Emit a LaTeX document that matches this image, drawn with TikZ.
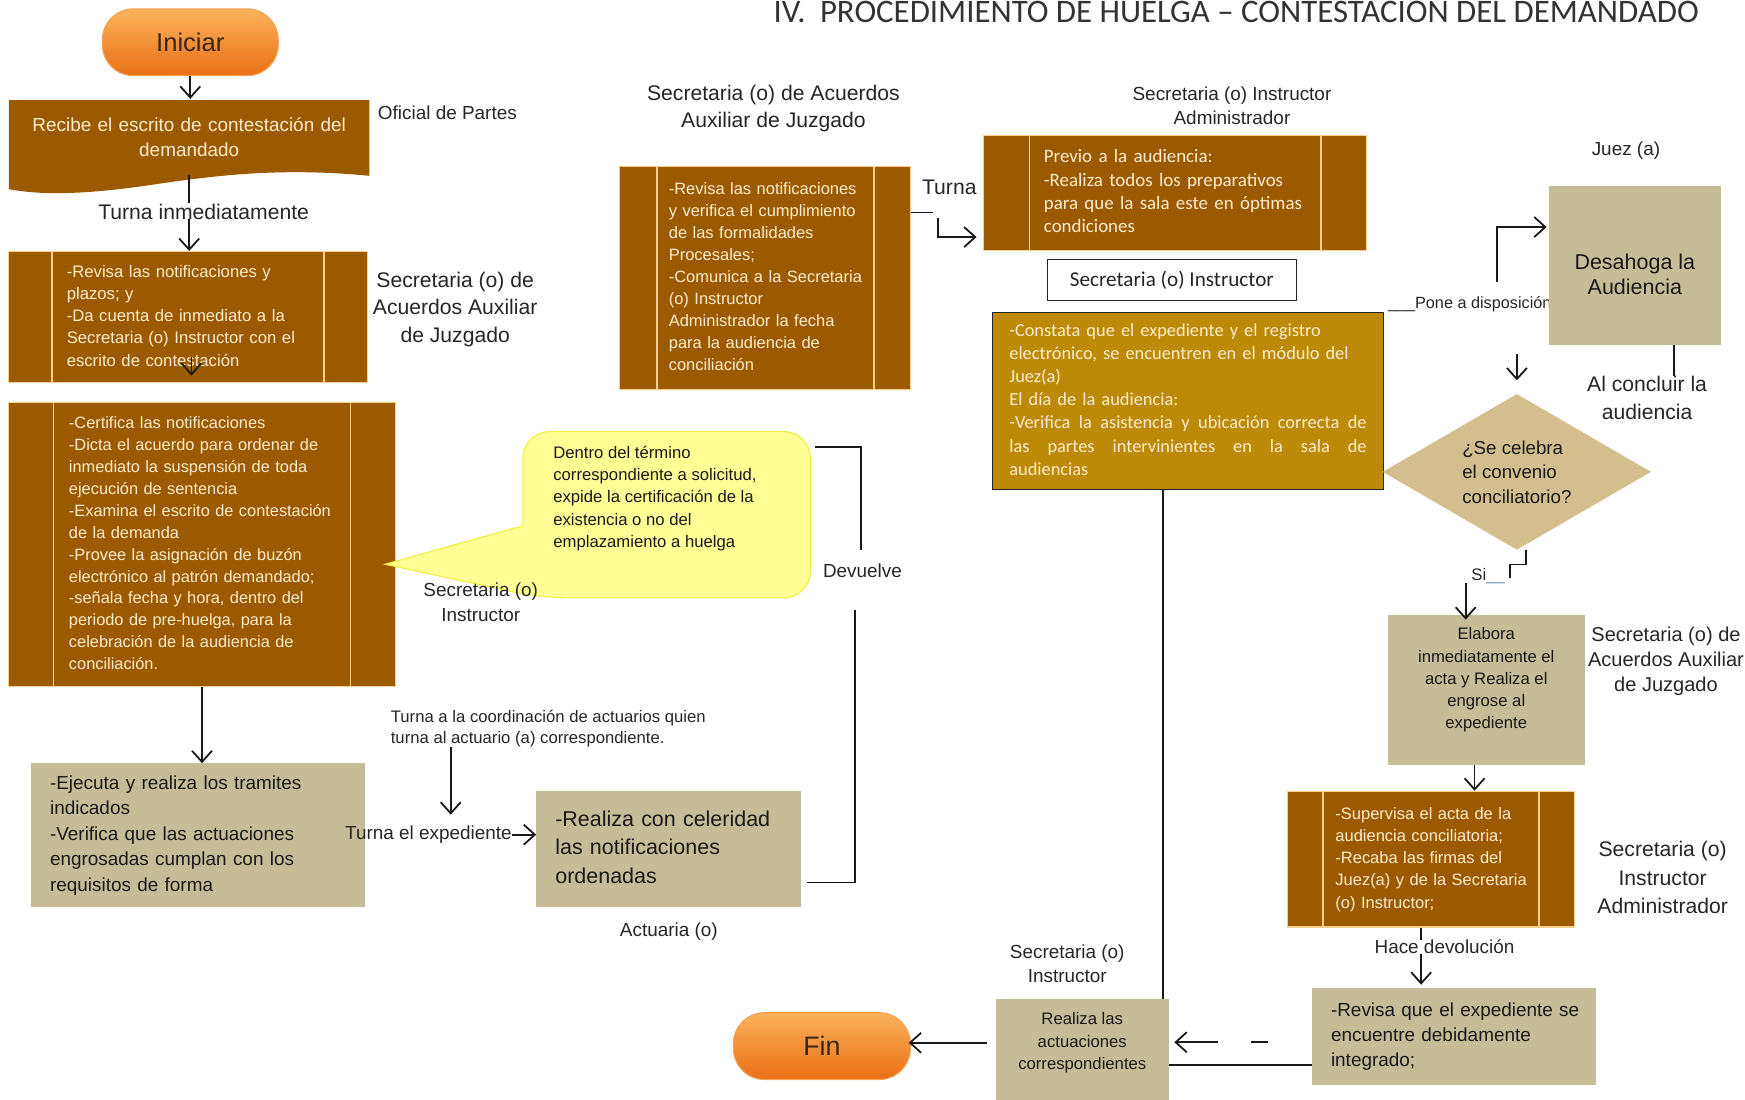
\documentclass[tikz,border=0pt]{standalone}
\usepackage{fontspec}
\setmainfont{Liberation Sans}
\newfontfamily\carlito{Carlito}
\usetikzlibrary{arrows.meta,shapes.geometric}
\definecolor{brownbox}{RGB}{155,90,0}
\definecolor{creamline}{RGB}{248,206,140}
\definecolor{creamtext}{RGB}{255,236,205}
\definecolor{tanbox}{RGB}{196,189,151}
\definecolor{diabox}{RGB}{212,190,142}
\definecolor{goldbox}{RGB}{188,138,6}
\definecolor{bubfill}{RGB}{255,255,150}
\definecolor{bubline}{RGB}{238,238,60}
\definecolor{ortop}{RGB}{252,178,92}
\definecolor{orbot}{RGB}{232,112,22}
\definecolor{orline}{RGB}{244,160,80}
\definecolor{pilltext}{RGB}{60,38,18}
\definecolor{siline}{RGB}{110,140,200}
\newcommand{\fsz}[2]{\fontsize{#1}{#2}\selectfont}
\newcommand{\boxlines}[1]{\begin{tabular}{@{}l@{}}#1\end{tabular}}

\begin{document}
\begin{tikzpicture}[x=1pt, y=-1pt,
    lbl/.style={text=black!85, align=center, inner sep=0pt},
    arr/.style={-{Straight Barb[length=10pt,width=18pt]}, line width=1.6pt, black!90},
    ln/.style={line width=1.6pt, black!90},
    pill/.style={rectangle, rounded corners=28pt, top color=ortop, bottom color=orbot, draw=orline,
        line width=1pt, text=pilltext, minimum width=158pt, minimum height=60pt, font=\fsz{23}{26}},
    proc/.style={rectangle, fill=brownbox, draw=creamline, line width=1pt, text=creamtext, align=left, inner ysep=0pt,
        path picture={\draw[creamline, line width=1.6pt]
            ([xshift=#1]path picture bounding box.north west) -- ([xshift=#1]path picture bounding box.south west)
            ([xshift=-#1]path picture bounding box.north east) -- ([xshift=-#1]path picture bounding box.south east);}},
    tanbx/.style={rectangle, fill=tanbox, text=black!90, inner ysep=0pt}]

    \useasboundingbox (0,0) rectangle (1568,988);
    \fill[white] (0,0) rectangle (1568,988);

    \node[anchor=base west, font=\carlito\fsz{29.5}{32}, text=black!80, inner sep=0pt] (tit) at (695,20)
        {IV.\hspace{13pt}PROCEDIMIENTO DE HUELGA – CONTESTACIÓN DEL DEMANDADO};

    \node[pill] (ini) at (171,38) {Iniciar};
    \fill[brownbox] (8,90) -- (332,90) -- (332,158) .. controls (250,150) and (190,158) .. (130,167)
        .. controls (80,174) and (40,176) .. (8,170) -- cycle;
    \node[minimum width=324pt, minimum height=68pt, text width=300pt, align=center, text=creamtext,
        font=\fsz{17}{22}, inner sep=0pt] (rec) at (170,123) {Recibe el escrito de contestación del\\demandado};
    \node[lbl, font=\fsz{17}{20}] (ofi) at (402,101) {Oficial de Partes};
    \node[lbl, font=\fsz{19}{22}] (tin) at (183,190) {Turna inmediatamente};

    \node[proc=39pt, text width=218pt, inner xsep=52pt, minimum height=118pt, font=\fsz{15}{20}] (b2) at (169,285)
        {\boxlines{-Revisa las notificaciones y\\plazos; y\\-Da cuenta de inmediato a la\\Secretaria (o) Instructor con el\\escrito de contestación}};
    \node[lbl, font=\fsz{19}{25}] (s2) at (409,278) {Secretaria (o) de\\Acuerdos Auxiliar\\de Juzgado};

    \node[proc=40pt, text width=239pt, inner xsep=54pt, minimum height=255pt, font=\fsz{14.7}{19.7}] (b3) at (181.5,489.5)
        {\boxlines{-Certifica las notificaciones\\-Dicta el acuerdo para ordenar de\\inmediato la suspensión de toda\\ejecución de sentencia\\-Examina el escrito de contestación\\de la demanda\\-Provee la asignación de buzón\\electrónico al patrón demandado;\\-señala fecha y hora, dentro del\\periodo de pre-huelga, para la\\celebración de la audiencia de\\conciliación.}};

    \node[minimum width=258pt, minimum height=149pt, inner sep=0pt] (bub) at (599,462.5) {};
    \coordinate (tip) at (346,507);
    \filldraw[fill=bubfill, draw=bubline, line width=1pt] (tip) -- ([yshift=-10pt]bub.west) [rounded corners=24pt]
        -- (bub.north west) -- (bub.north east) -- (bub.south east) -- ([xshift=16pt]bub.south west) [sharp corners] -- cycle;
    \node[lbl, align=left, anchor=west, font=\fsz{15}{20}, text=black!90] (bubt) at (497,448)
        {Dentro del término\\correspondiente a solicitud,\\expide la certificación de la\\existencia o no del\\emplazamiento a huelga};
    \node[lbl, font=\fsz{17}{22}] (s3) at (432,541) {Secretaria (o)\\Instructor};

    \node[tanbx, text width=266pt, inner xsep=17pt, minimum height=129pt, align=left, font=\fsz{17}{23}] (b4) at (178,750.5)
        {\boxlines{-Ejecuta y realiza los tramites\\indicados\\-Verifica que las actuaciones\\engrosadas cumplan con los\\requisitos de forma}};
    \node[lbl, align=left, anchor=west, font=\fsz{15}{19}] (tco) at (351,654.5)
        {Turna a la coordinación de actuarios quien\\turna al actuario (a) correspondiente.};
    \node[lbl, font=\fsz{17}{20}] (tex) at (385,750) {Turna el expediente};
    \node[tanbx, text width=204pt, inner xsep=17pt, minimum height=104pt, align=left, font=\fsz{19.3}{25.5}] (b5) at (601,763)
        {\boxlines{-Realiza con celeridad\\las notificaciones\\ordenadas}};
    \node[lbl, font=\fsz{17}{20}] (act) at (601,837) {Actuaria (o)};
    \node[lbl, font=\fsz{17}{20}] (dev) at (775,513) {Devuelve};

    \node[lbl, font=\fsz{19}{25}] (s6) at (695,97.5) {Secretaria (o) de Acuerdos\\Auxiliar de Juzgado};
    \node[proc=33pt, text width=173pt, inner xsep=44pt, minimum height=200pt, font=\fsz{14.8}{19.7}] (b6) at (687.5,250)
        {\boxlines{-Revisa las notificaciones\\y verifica el cumplimiento\\de las formalidades\\Procesales;\\-Comunica a la Secretaria\\(o) Instructor\\Administrador la fecha\\para la audiencia de\\conciliación}};
    \node[lbl, font=\fsz{19}{22}] (tur) at (853,168) {Turna};

    \node[lbl, font=\fsz{17}{22}] (s7) at (1107,95) {Secretaria (o) Instructor\\Administrador};
    \node[proc=41pt, text width=236pt, inner xsep=54pt, minimum height=103pt, font=\carlito\fsz{17}{21}] (b7) at (1056,173.5)
        {\boxlines{Previo a la audiencia:\\-Realiza todos los preparativos\\para que la sala este en óptimas\\condiciones}};
    \node[rectangle, draw=black!85, line width=1.3pt, fill=white, minimum width=224pt, minimum height=37pt,
        font=\carlito\fsz{19}{22}, text=black!85] (sin) at (1053,251.5) {Secretaria (o) Instructor};
    \node[rectangle, fill=goldbox, draw=black!85, line width=1.3pt, text=creamtext, text width=321pt, inner xsep=15pt,
        inner ysep=0pt, minimum height=159pt, align=left, font=\carlito\fsz{16.5}{20.8}] (b8) at (1067.5,360.5)
        {\boxlines{-Constata que el expediente y el registro\\electrónico, se encuentren en el módulo del\\Juez(a)\\El día de la audiencia:\\\makebox[321pt][s]{\spaceskip=0pt\relax -Verifica la asistencia y ubicación correcta de}\\\makebox[321pt][s]{\spaceskip=0pt\relax las partes intervinientes en la sala de}\\audiencias}};

    \node[lbl, anchor=west, font=\fsz{14.6}{17}] (pon) at (1247,273) {\_\_\_Pone a disposición};
    \node[tanbx, minimum width=154pt, minimum height=143pt] (des) at (1469,238.5) {};
    \node[lbl, font=\fsz{19.3}{23}, text=black!90] (dest) at (1469,246.5) {Desahoga la\\Audiencia};
    \node[lbl, font=\fsz{17}{20}] (juez) at (1461,135) {Juez (a)};
    \node[lbl, font=\fsz{19}{25}] (con) at (1480,357.5) {Al concluir la\\audiencia};

    \node[diamond, aspect=1.72, fill=diabox, minimum width=241pt, minimum height=140pt, inner sep=0pt, align=left,
        font=\fsz{16.8}{22}, text=black!90] (dia) at (1363,424) {¿Se celebra\\el convenio\\conciliatorio?};
    \node[lbl, anchor=west, font=\fsz{15}{18}] (si) at (1322,518) {Si{\color{siline}\_\_}};

    \node[tanbx, minimum width=177pt, minimum height=134pt] (ela) at (1335.5,620) {};
    \node[lbl, font=\fsz{15}{20}, text=black!90] (elat) at (1335.5,611)
        {Elabora\\inmediatamente el\\acta y Realiza el\\engrose al\\expediente};
    \node[lbl, font=\fsz{18}{22.5}] (sel) at (1497,594.5) {Secretaria (o) de\\Acuerdos Auxiliar\\de Juzgado};

    \node[proc=32pt, text width=172pt, inner xsep=43pt, minimum height=122pt, font=\fsz{14.8}{20}] (sup) at (1286,772)
        {\boxlines{-Supervisa el acta de la\\audiencia conciliatoria;\\-Recaba las firmas del\\Juez(a) y de la Secretaria\\(o) Instructor;}};
    \node[lbl, font=\fsz{19}{25.5}] (ssu) at (1494,788.5) {Secretaria (o)\\Instructor\\Administrador};
    \node[lbl, font=\fsz{17}{20}] (hac) at (1298,851) {Hace devolución};

    \node[tanbx, text width=221pt, inner xsep=17pt, minimum height=87pt, align=left, font=\fsz{17}{22.5}] (rev) at (1306.5,931.5)
        {\boxlines{-Revisa que el expediente se\\encuentre debidamente\\integrado;}};
    \node[tanbx, minimum width=155pt, minimum height=97pt] (rea) at (972.5,946.5) {};
    \node[lbl, font=\fsz{15}{20.5}, text=black!90] (reat) at (972.5,937) {Realiza las\\actuaciones\\correspondientes};
    \node[lbl, font=\fsz{17}{22}] (sre) at (959,866) {Secretaria (o)\\Instructor};
    \node[pill, minimum width=159pt, font=\fsz{24}{26}] (fin) at (738.5,940) {Fin};

    \draw[arr] (ini.south) -- (ini.south |- rec.north);
    \draw[ln] (rec.south) -- (rec.south |- tin.north);
    \draw[arr] (rec.south |- tin.south) -- (rec.south |- b2.north);
    \draw[arr] ([xshift=3pt,yshift=24pt]b2.south) -- ([xshift=3pt,yshift=24pt]b2.south |- b3.north);
    \draw[arr] (b3.south) -- (b3.south |- b4.north);
    \coordinate (tc) at (405,732);
    \draw[arr] (tc |- tco.south) -- (tc);
    \draw[arr] (tex.east) -- (tex.east -| b5.west);
    \draw[ln] ([xshift=5pt,yshift=-30pt]b5.east) -| ([xshift=-7pt,yshift=-29pt]dev.south);
    \draw[ln] ([xshift=-1pt,yshift=12pt]dev.north) |- ([xshift=4pt,yshift=-14pt]bub.north east);
    \draw[ln] ([yshift=59pt]b6.east) -- ++(20,0);
    \draw[arr] ([xshift=24pt,yshift=54pt]b6.east) |- ([xshift=-6pt,yshift=-39.5pt]b7.west);
    \draw[ln] ([xshift=-22.5pt]b8.south) -- ([xshift=-22.5pt]b8.south |- rea.north);
    \draw[arr, shorten >=2pt] ([xshift=98pt,yshift=20pt]pon.west) |- ([yshift=34.5pt]des.west);
    \draw[ln] ([xshift=35pt]des.south) -- ([xshift=35pt]des.south |- con.north);
    \draw[arr, shorten >=12pt] ([yshift=36pt]dia.north) -- (dia.north);
    \draw[ln] ([xshift=8pt]dia.south) -- ++(0,13) -- ++(-14,0) -- ++(0,12);
    \draw[arr, shorten >=2pt] ([xshift=-5pt,yshift=-6pt]si.west) -- ([xshift=-5pt,yshift=-6pt]si.west |- ela.north);
    \draw[arr] ([xshift=-10.5pt]ela.south) -- ([xshift=-10.5pt]ela.south |- sup.north);
    \coordinate (hx) at (1277,0);
    \draw[ln] (sup.south -| hx) -- (hac.north -| hx);
    \draw[arr, shorten >=3pt] (hac.south -| hx) -- (rev.north -| hx);
    \draw[ln] ([yshift=-25.5pt]rev.west) -- ([yshift=-25.5pt]rev.west -| rea.east);
    \draw[arr, dash pattern=on 0pt off 39pt on 16pt off 29pt on 40pt, shorten >=5pt] ([yshift=-5pt]rev.west) -- ([yshift=-5pt]rev.west -| rea.east);
    \draw[arr, shorten >=6pt] ([xshift=-8pt,yshift=9.5pt]rea.west) -- ([xshift=-8pt,yshift=9.5pt]rea.west -| fin.east);
\end{tikzpicture}
\end{document}
